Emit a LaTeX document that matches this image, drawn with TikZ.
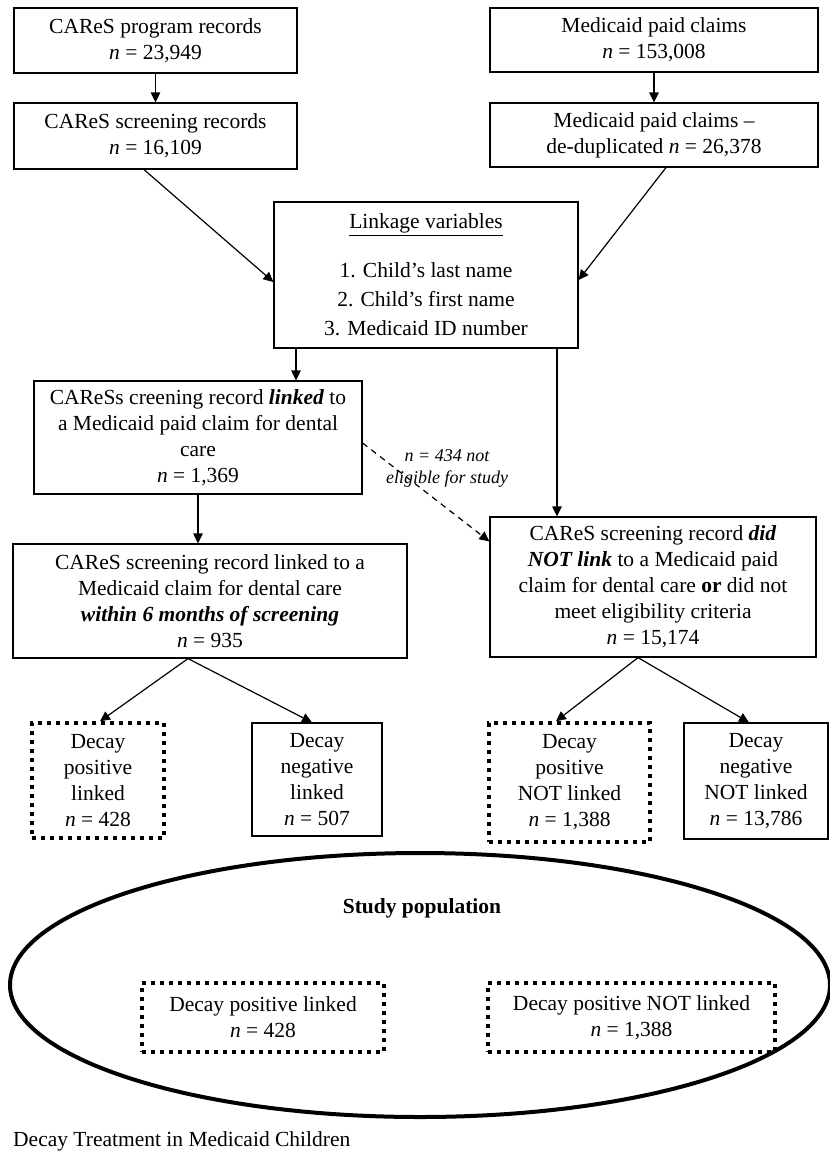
\documentclass[tikz,border=0pt]{standalone}
\usepackage{fontspec}
\setmainfont{Liberation Serif}
\usetikzlibrary{arrows.meta,shapes.geometric}
\begin{document}
\begin{tikzpicture}[x=1pt,y=-1pt,
  every node/.style={font=\fontsize{21.5}{26}\selectfont, align=center, inner sep=0pt},
  box/.style={draw, line width=1.2pt, rectangle},
  dotbox/.style={draw, line width=3.5pt, dash pattern=on 4pt off 5pt, rectangle},
  arr/.style={line width=1.2pt, -{Triangle[length=10pt,width=9.5pt]}},
  darr/.style={line width=1.2pt, dash pattern=on 6pt off 5pt, -{Triangle[length=10pt,width=9.5pt]}}]
\useasboundingbox (0,0) rectangle (830,1152);
\fill[white] (0,0) rectangle (830,1152);
% top boxes
\node[box, minimum width=283pt, minimum height=65pt] (A) at (155.5,40.5) {CAReS program records\\\textit{n} = 23,949};
\node[box, minimum width=283pt, minimum height=66pt] (B) at (155.5,136) {CAReS screening records\\\textit{n} = 16,109};
\node[box, minimum width=328pt, minimum height=64pt] (C) at (654,40) {Medicaid paid claims\\\textit{n} = 153,008};
\node[box, minimum width=328pt, minimum height=64pt] (D) at (654,135) {Medicaid paid claims --\\de-duplicated \textit{n} = 26,378};
% linkage
\node[box, minimum width=304pt, minimum height=146pt] (L) at (426,275) {\underline{Linkage variables}\\[23pt]1. Child’s last name\\[3pt]2. Child’s first name\\[3pt]3. Medicaid ID number};
% middle
\node[box, minimum width=328pt, minimum height=113pt] (E) at (198,437.5) {CAReSs creening record \textbf{\textit{linked}} to\\a Medicaid paid claim for dental\\care\\\textit{n} = 1,369};
\node[box, minimum width=394pt, minimum height=114pt] (F) at (210,601) {CAReS screening record linked to a\\Medicaid claim for dental care\\\textbf{\textit{within 6 months of screening}}\\\textit{n} = 935};
\node[box, minimum width=326pt, minimum height=140pt] (G) at (653,587) {CAReS screening record \textbf{\textit{did}}\\\textbf{\textit{NOT link}} to a Medicaid paid\\claim for dental care \textbf{or} did not\\meet eligibility criteria\\\textit{n} = 15,174};
% decay boxes
\node[dotbox, minimum width=132pt, minimum height=115pt] (H1) at (98,780.5) {Decay\\positive\\linked\\\textit{n} = 428};
\node[box, minimum width=130pt, minimum height=113pt] (H2) at (317,779.5) {Decay\\negative\\linked\\\textit{n} = 507};
\node[dotbox, minimum width=161pt, minimum height=119pt] (H3) at (569.5,782.5) {Decay\\positive\\NOT linked\\\textit{n} = 1,388};
\node[box, minimum width=144pt, minimum height=116pt] (H4) at (756,781) {Decay\\negative\\NOT linked\\\textit{n} = 13,786};
% study population
\node[ellipse, draw, line width=4pt, minimum width=820pt, minimum height=264pt] (pop) at (420,985) {};
\node[font=\fontsize{21.5}{26}\selectfont\bfseries] (sp) at (422,908) {Study population};
\node[dotbox, minimum width=242pt, minimum height=69pt] (I1) at (263,1017.5) {Decay positive linked\\\textit{n} = 428};
\node[dotbox, minimum width=287pt, minimum height=69pt] (I2) at (631.5,1017.5) {Decay positive NOT linked\\\textit{n} = 1,388};
% caption
\node[anchor=base west] (cap) at (13,1146) {Decay Treatment in Medicaid Children};
% arrows
\draw[arr] (A.south) -- (B.north);
\draw[arr] (C.south) -- (D.north);
\draw[arr] ([xshift=-11.5pt]B.south) -- ([yshift=-7pt]L.west);
\draw[arr] ([xshift=12pt]D.south) -- ([yshift=-5pt]L.east);
\draw[arr] ([xshift=-130pt]L.south) -- ([xshift=-130pt]L.south |- E.north);
\draw[arr] ([xshift=131pt]L.south) -- ([xshift=131pt]L.south |- G.north);
\draw[arr] (E.south) -- (E.south |- F.north);
\draw[darr] ([yshift=-5.5pt]E.east) -- ([yshift=-25pt]G.north west);
\node[font=\fontsize{18}{22}\selectfont\itshape] (note) at (447,468) {n = 434 not\\eligible for study};
\draw[arr] ([xshift=-22pt]F.south) -- ([xshift=2pt]H1.north);
\draw[arr] ([xshift=-22pt]F.south) -- ([xshift=-5pt]H2.north);
\draw[arr] ([xshift=-15pt]G.south) -- ([xshift=-13.5pt]H3.north);
\draw[arr] ([xshift=-15pt]G.south) -- ([xshift=-7pt]H4.north);
\end{tikzpicture}
\end{document}
